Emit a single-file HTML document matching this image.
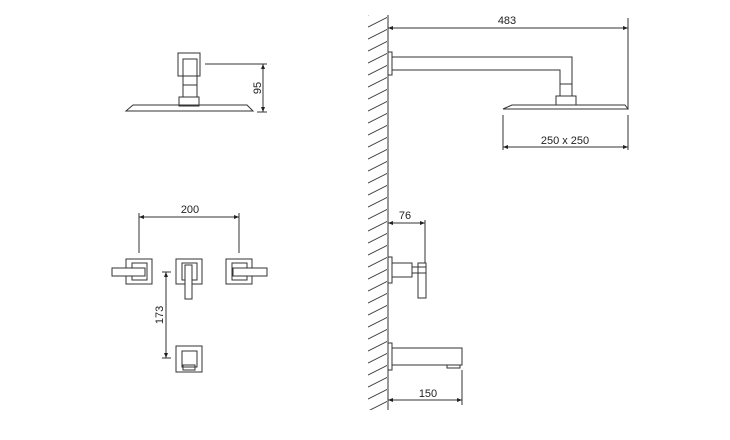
<!DOCTYPE html>
<html><head><meta charset="utf-8"><style>
html,body{margin:0;padding:0;background:#fff;}
svg{display:block;}
text{font-family:"Liberation Sans",sans-serif;font-size:11px;fill:#222;}
</style></head><body>
<svg width="730" height="440" viewBox="0 0 730 440" xmlns="http://www.w3.org/2000/svg">
<defs>
<pattern id="h" patternUnits="userSpaceOnUse" x="368" y="17" width="20" height="12">
<line x1="0" y1="10" x2="20" y2="0" stroke="#444" stroke-width="1"/>
</pattern>
<marker id="a" viewBox="0 0 10 10" refX="10" refY="5" markerWidth="7" markerHeight="5" orient="auto-start-reverse">
<path d="M0,1 L10,5 L0,9 z" fill="#222"/>
</marker>
</defs>
<g fill="none" stroke="#333" stroke-width="1">
<!-- wall -->
<rect x="368" y="15" width="19" height="395" fill="url(#h)" stroke="none"/>
<line x1="388" y1="15" x2="388" y2="410"/>

<!-- top-left shower -->
<rect x="178" y="53" width="22" height="23"/>
<rect x="183" y="59" width="14" height="26"/>
<rect x="183" y="85" width="14" height="12"/>
<rect x="179" y="97" width="20" height="9"/>
<path d="M133,105 L247,105 L253,111 L126,111 Z"/>
<line x1="205" y1="64" x2="267" y2="64"/>
<line x1="257" y1="112" x2="267" y2="112"/>
<line x1="263" y1="64" x2="263" y2="112" marker-start="url(#a)" marker-end="url(#a)"/>

<!-- 200 dim -->
<line x1="139" y1="213" x2="139" y2="253"/>
<line x1="239" y1="213" x2="239" y2="253"/>
<line x1="139" y1="217" x2="239" y2="217" marker-start="url(#a)" marker-end="url(#a)"/>

<!-- handles -->
<rect x="126" y="259" width="26" height="25"/>
<rect x="132" y="263" width="15" height="17"/>
<rect x="112" y="268" width="33" height="8" fill="#fff"/>
<rect x="176" y="259" width="26" height="25"/>
<rect x="182" y="263" width="15" height="17"/>
<rect x="185" y="265" width="7" height="34" fill="#fff"/>
<rect x="226" y="259" width="26" height="25"/>
<rect x="232" y="263" width="15" height="17"/>
<rect x="233" y="268" width="34" height="8" fill="#fff"/>

<!-- 173 dim -->
<line x1="162" y1="272" x2="171" y2="272"/>
<line x1="162" y1="358" x2="171" y2="358"/>
<line x1="166" y1="272" x2="166" y2="358" marker-start="url(#a)" marker-end="url(#a)"/>

<!-- spout front -->
<rect x="176" y="346" width="26" height="26"/>
<rect x="182" y="351" width="15" height="16"/>
<rect x="183" y="365" width="12" height="5"/>

<!-- side shower -->
<line x1="388" y1="28" x2="628" y2="28" marker-start="url(#a)" marker-end="url(#a)"/>
<line x1="628" y1="18" x2="628" y2="109"/>
<rect x="388" y="52" width="4" height="23"/>
<path d="M392,57 L572,57 L572,84 M392,70 L560,70 L560,84"/>
<rect x="560" y="84" width="12" height="12"/>
<rect x="556" y="96" width="20" height="9"/>
<path d="M512,105 L625,105 L628,109 L503,109 Z"/>
<line x1="503" y1="115" x2="503" y2="150"/>
<line x1="628" y1="115" x2="628" y2="150"/>
<line x1="503" y1="147" x2="628" y2="147" marker-start="url(#a)" marker-end="url(#a)"/>

<!-- valve side -->
<line x1="388" y1="223" x2="425" y2="223" marker-start="url(#a)" marker-end="url(#a)"/>
<line x1="425" y1="220" x2="425" y2="263"/>
<rect x="388" y="257" width="4" height="26"/>
<rect x="392" y="263" width="20" height="14"/>
<rect x="412" y="267" width="6" height="6"/>
<rect x="418" y="263" width="8" height="35"/>
<line x1="418" y1="267" x2="426" y2="267"/>
<line x1="418" y1="273" x2="426" y2="273"/>

<!-- spout side -->
<rect x="388" y="343" width="4" height="27"/>
<rect x="392" y="348" width="70" height="17"/>
<rect x="447" y="365" width="13" height="3"/>
<line x1="462" y1="370" x2="462" y2="405"/>
<line x1="388" y1="400" x2="462" y2="400" marker-start="url(#a)" marker-end="url(#a)"/>
</g>
<text x="190" y="213" text-anchor="middle">200</text>
<text x="507" y="24" text-anchor="middle">483</text>
<text x="565" y="144" text-anchor="middle">250 x 250</text>
<text x="405" y="219" text-anchor="middle">76</text>
<text x="428" y="397" text-anchor="middle">150</text>
<text transform="translate(261,88) rotate(-90)" text-anchor="middle">95</text>
<text transform="translate(163,315) rotate(-90)" text-anchor="middle">173</text>
</svg>
</body></html>
